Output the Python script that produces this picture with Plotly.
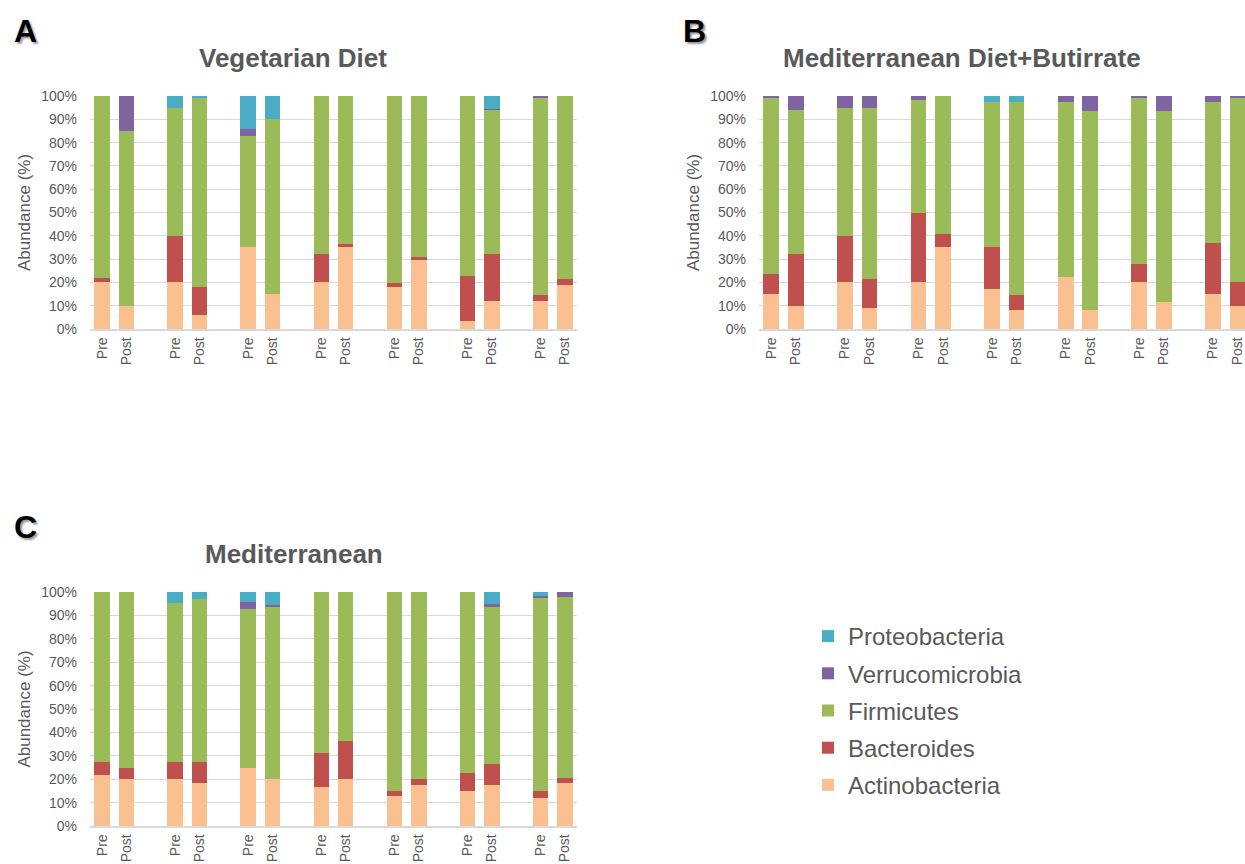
import plotly.graph_objects as go

# ---- data -----------------------------------------------------------------
phases = ["Pre", "Post"]
n_subjects = 7
phyla = ["Actinobacteria", "Bacteroides", "Firmicutes", "Verrucomicrobia", "Proteobacteria"]

panel_titles = ["Vegetarian Diet", "Mediterranean Diet+Butirrate", "Mediterranean"]
panel_letters = ["A", "B", "C"]

y_ticks = list(range(0, 101, 10))
y_ticklabels = [f"{v}%" for v in y_ticks]

# relative abundance (%) per sample, ordered subject1 Pre, subject1 Post, subject2 Pre, ...
veg_actino = [20, 10, 20, 6, 35, 15, 20, 35, 18, 30, 3.3, 12, 12, 19]
veg_bacter = [2, 0, 20, 12, 0, 0, 12, 1.5, 1.7, 0.8, 19.4, 20, 2.5, 2.3]
veg_firmic = [78, 75, 55, 81, 47.7, 75, 68, 63.5, 80.3, 69.2, 77.3, 62, 84.5, 78.7]
veg_verruc = [0, 15, 0, 0, 3.3, 0, 0, 0, 0, 0, 0, 0.6, 1, 0]
veg_proteo = [0, 0, 5, 1, 14, 10, 0, 0, 0, 0, 0, 5.4, 0, 0]

medb_actino = [15, 10, 20, 9, 20, 35, 17.3, 8.2, 22.3, 8.3, 20, 11.5, 15, 10]
medb_bacter = [8.7, 22, 20, 12.3, 30, 5.7, 18, 6.5, 0, 0, 7.9, 0, 21.7, 10]
medb_firmic = [75.3, 62.2, 55, 73.7, 48.3, 59.3, 62.1, 82.7, 75.1, 85.1, 71.1, 81.9, 60.7, 79]
medb_verruc = [1, 5.8, 5, 5, 1.7, 0, 0, 0, 2.6, 6.6, 1, 6.6, 2.6, 1]
medb_proteo = [0, 0, 0, 0, 0, 0, 2.6, 2.6, 0, 0, 0, 0, 0, 0]

med_actino = [21.7, 20, 20, 18.5, 25, 20, 16.7, 20, 12.7, 17.6, 15, 17.6, 11.9, 18.5]
med_bacter = [5.8, 5, 7.5, 9, 0, 0, 14.6, 16.3, 2.3, 2.3, 7.5, 9, 3.1, 2.2]
med_firmic = [72.5, 75, 67.6, 69.4, 67.8, 73.6, 68.7, 63.7, 85, 80.1, 77.5, 67, 82.6, 77.2]
med_verruc = [0, 0, 0, 0, 2.9, 0.8, 0, 0, 0, 0, 0, 1.4, 0.5, 2.1]
med_proteo = [0, 0, 4.9, 3.1, 4.3, 5.6, 0, 0, 0, 0, 0, 5, 1.9, 0]

panels = [
    [veg_actino, veg_bacter, veg_firmic, veg_verruc, veg_proteo],
    [medb_actino, medb_bacter, medb_firmic, medb_verruc, medb_proteo],
    [med_actino, med_bacter, med_firmic, med_verruc, med_proteo],
]

# ---- style ----------------------------------------------------------------
colors = {
    "Actinobacteria": "#FAC090",
    "Bacteroides": "#C0504D",
    "Firmicutes": "#9BBB59",
    "Verrucomicrobia": "#8064A2",
    "Proteobacteria": "#4BACC6",
}
FONT = "Liberation Sans, Arial, sans-serif"
GREY = "#595959"
GRID = "#D9D9D9"
W, H = 1245, 864

# each subject takes three slots: Pre, Post and an empty spacer
xpos = [s * 3 + k for s in range(n_subjects) for k in range(len(phases))]
xtext = phases * n_subjects


def px_x(p):
    return p / W


def px_y(p):
    return 1 - p / H


fig = go.Figure()

axis_ids = ["", "2", "3"]
for pi, series in enumerate(panels):
    for name, vals in zip(phyla, series):
        fig.add_trace(go.Bar(
            x=xpos, y=vals, name=name,
            marker=dict(color=colors[name], line=dict(width=0)),
            xaxis="x" + axis_ids[pi], yaxis="y" + axis_ids[pi],
            legendgroup=name, showlegend=(pi == 2),
            legendrank=len(phyla) - phyla.index(name),
        ))

x_domains = [
    [px_x(90), px_x(577)],
    [px_x(759), 1.0],
    [px_x(90), px_x(577)],
]
x_ranges = [[-0.5, 19.5], [-0.5, 19.31], [-0.5, 19.5]]
y_domains = [
    [px_y(329), px_y(96)],
    [px_y(329), px_y(96)],
    [px_y(826), px_y(592)],
]

layout_axes = {}
for pi in range(3):
    sfx = axis_ids[pi]
    layout_axes["xaxis" + sfx] = dict(
        domain=x_domains[pi], range=x_ranges[pi], anchor="y" + sfx,
        tickmode="array", tickvals=xpos, ticktext=xtext, tickangle=-90,
        showgrid=False, zeroline=False, showline=True, linecolor=GRID, linewidth=1.5,
        ticks="", ticklabelstandoff=1, automargin=False,
        tickfont=dict(family=FONT, size=14, color=GREY), fixedrange=True,
    )
    layout_axes["yaxis" + sfx] = dict(
        domain=y_domains[pi], range=[0, 100], anchor="x" + sfx,
        tickmode="array", tickvals=y_ticks, ticktext=y_ticklabels,
        showgrid=True, gridcolor=GRID, gridwidth=1, zeroline=False, showline=False,
        ticks="", ticklabelstandoff=12, automargin=False,
        tickfont=dict(family=FONT, size=14, color=GREY),
        title=dict(text="Abundance (%)", font=dict(family=FONT, size=17, color=GREY), standoff=6),
        fixedrange=True,
    )

title_pos = [(292.5, 58), (961.5, 58), (293.5, 554)]
letter_pos = [(25, 31), (694, 31), (25, 527)]
annotations = []
for (tx, ty), t in zip(title_pos, panel_titles):
    annotations.append(dict(
        text=f"<b>{t}</b>", x=px_x(tx), y=px_y(ty), xref="paper", yref="paper",
        xanchor="center", yanchor="middle", showarrow=False,
        font=dict(family=FONT, size=26, color=GREY),
    ))
for (lx, ly), t in zip(letter_pos, panel_letters):
    annotations.append(dict(
        text=f"<b>{t}</b>", x=px_x(lx), y=px_y(ly), xref="paper", yref="paper",
        xanchor="center", yanchor="middle", showarrow=False,
        font=dict(family=FONT, size=32, color="black", shadow="2px 2px 2px #9a9a9a"),
    ))

fig.update_layout(
    width=W, height=H,
    margin=dict(l=0, r=0, t=0, b=0, autoexpand=False),
    paper_bgcolor="white", plot_bgcolor="white",
    barmode="stack", bargap=0.36,
    showlegend=True,
    legend=dict(
        x=px_x(808), y=px_y(614), xanchor="left", yanchor="top",
        font=dict(family=FONT, size=24, color=GREY),
        traceorder="grouped", tracegroupgap=3,
        bgcolor="rgba(0,0,0,0)",
    ),
    annotations=annotations,
    **layout_axes,
)

fig.write_html("out.html")
